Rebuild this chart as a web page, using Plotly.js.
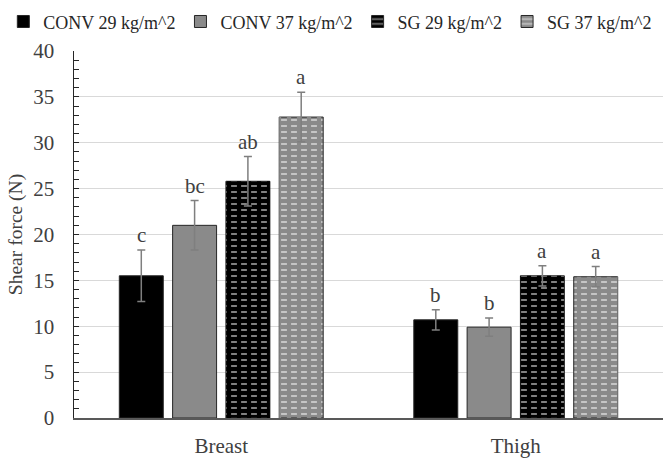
<!DOCTYPE html>
<html>
<head>
<meta charset="utf-8">
<script src="https://cdn.plot.ly/plotly-3.0.1.min.js"></script>
<style>html,body{margin:0;padding:0;background:#fff;}#chart{width:666px;height:461px;}</style>
</head>
<body>
<div id="chart"></div>
<script>
var categories = ["Breast", "Thigh"];
var seriesNames = ["CONV 29 kg/m^2", "CONV 37 kg/m^2", "SG 29 kg/m^2", "SG 37 kg/m^2"];
var conv29 = [15.5, 10.7];
var conv37 = [21.0, 9.9];
var sg29 = [25.8, 15.5];
var sg37 = [32.8, 15.4];
var conv29Err = [2.8, 1.1];
var conv37Err = [2.7, 1.0];
var sg29Err = [2.7, 1.1];
var sg37Err = [2.7, 1.1];
var conv29Letters = ["c", "b"];
var conv37Letters = ["bc", "b"];
var sg29Letters = ["ab", "a"];
var sg37Letters = ["a", "a"];

var values = [conv29, conv37, sg29, sg37];
var errs = [conv29Err, conv37Err, sg29Err, sg37Err];
var letters = [conv29Letters, conv37Letters, sg29Letters, sg37Letters];
var fills = ["#000000", "#8a8a8a", "#000000", "#8a8a8a"];
var patterned = [false, false, true, true];

var bargap = 0.276;
var bargroupgap = 0.175;
var font = "Liberation Serif";
var textColor = "#404040";

var traces = [];
values.forEach(function (v, i) {
  var marker = { color: fills[i], line: { color: "#262626", width: 1 } };
  var errorY = { type: "data", array: errs[i], visible: true, color: "#7f7f7f", thickness: 1.5, width: 4 };
  if (patterned[i]) {
    marker.pattern = { shape: "-", fillmode: "overlay", fgcolor: "#ffffff", size: 6, solidity: 0.34 };
  }
  traces.push({
    type: "bar", name: seriesNames[i], x: categories, y: v,
    offsetgroup: "g" + i, marker: marker,
    error_y: patterned[i] ? { visible: false } : errorY
  });
  if (patterned[i]) {
    // vertical breaks that turn the white lines into dashes
    traces.push({
      type: "bar", name: seriesNames[i], x: categories, y: v,
      offsetgroup: "g" + i, showlegend: false, hoverinfo: "skip",
      marker: { color: fills[i], line: { width: 0 },
        pattern: { shape: "|", fillmode: "replace", size: 10, solidity: 0.42 } },
      error_y: errorY
    });
  }
});

var annotations = [];
var groupW = 1 - bargap;
var slot = groupW / values.length;
values.forEach(function (v, i) {
  var off = -groupW / 2 + slot * (i + 0.5);
  v.forEach(function (val, j) {
    annotations.push({
      x: j + off, y: val + errs[i][j], xref: "x", yref: "y",
      text: letters[i][j], showarrow: false, yanchor: "bottom", yshift: 1,
      font: { family: font, size: 21, color: textColor }
    });
  });
});

var layout = {
  width: 666, height: 461,
  margin: { l: 74, r: 3, t: 49, b: 43 },
  paper_bgcolor: "#ffffff", plot_bgcolor: "#ffffff",
  barmode: "group", bargap: bargap, bargroupgap: bargroupgap,
  font: { family: font, color: textColor, size: 21 },
  showlegend: true,
  legend: {
    orientation: "h", x: -0.12, xanchor: "left", y: 1.13, yanchor: "top",
    bgcolor: "rgba(0,0,0,0)",
    font: { family: font, size: 18, color: "#262626" },
    traceorder: "normal", itemwidth: 30, tracegroupgap: 0
  },
  xaxis: {
    type: "category", showline: true, linecolor: "#595959", linewidth: 1.5,
    ticks: "", ticklabelstandoff: 8,
    tickfont: { family: font, size: 21, color: textColor }, showgrid: false
  },
  yaxis: {
    range: [0, 40], dtick: 5, showline: true, linecolor: "#262626", linewidth: 1.5,
    ticks: "inside", ticklen: 5, tickcolor: "#262626", ticklabelstandoff: 14,
    minor: { dtick: 1, ticks: "inside", ticklen: 5, tickcolor: "#262626", showgrid: false },
    gridcolor: "#d9d9d9", gridwidth: 1, zeroline: false,
    tickfont: { family: font, size: 21, color: textColor },
    title: { text: "Shear force (N)", font: { family: font, size: 19.5, color: textColor }, standoff: 5 }
  },
  annotations: annotations
};

Plotly.newPlot("chart", traces, layout, { displayModeBar: false, staticPlot: true });
</script>
</body>
</html>
